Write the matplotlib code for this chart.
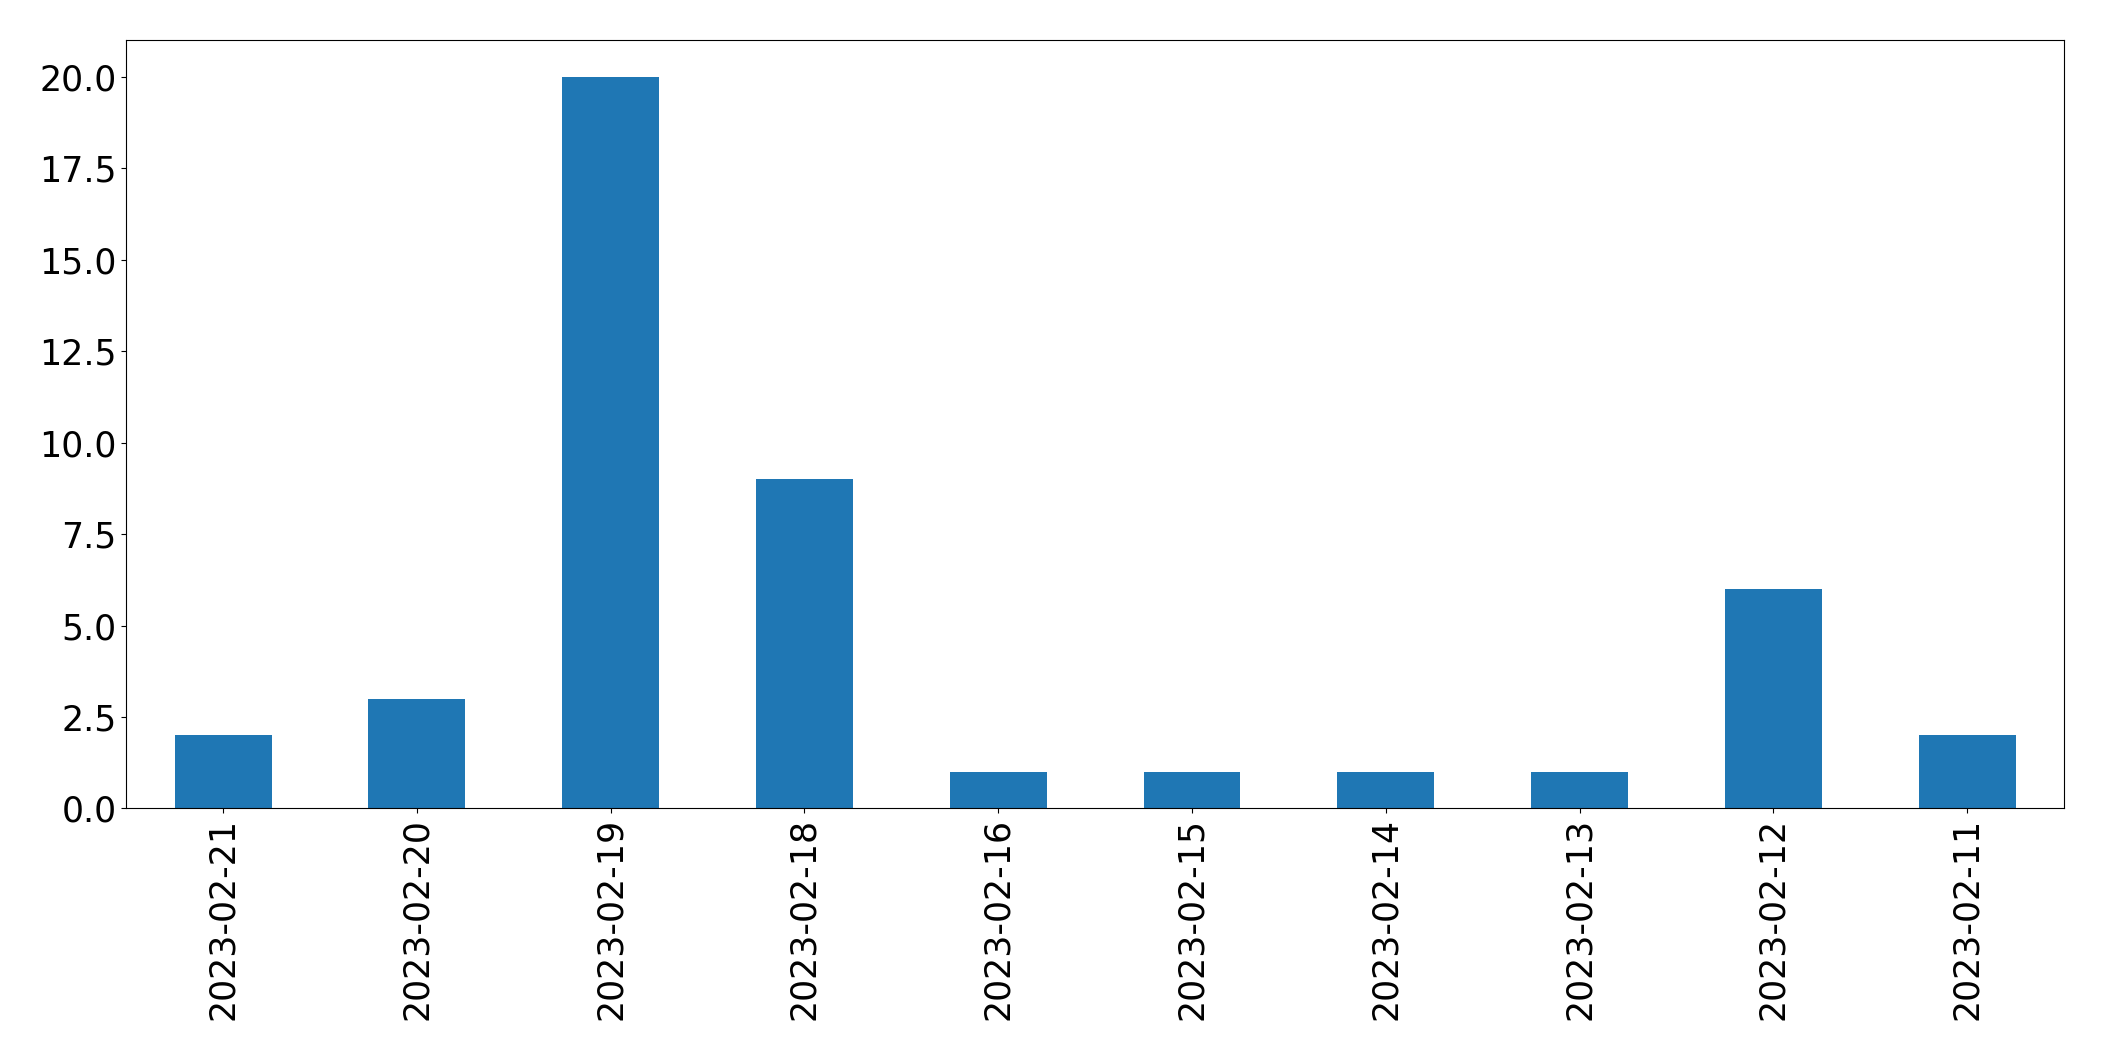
import matplotlib
matplotlib.use("Agg")
import matplotlib.pyplot as plt
import pandas as pd

dates = ["2023-02-21", "2023-02-20", "2023-02-19", "2023-02-18", "2023-02-16",
         "2023-02-15", "2023-02-14", "2023-02-13", "2023-02-12", "2023-02-11"]
counts = [2, 3, 20, 9, 1, 1, 1, 1, 6, 2]

s = pd.Series(counts, index=dates)

fig, ax = plt.subplots(figsize=(21.04, 10.61), dpi=100)
s.plot(kind="bar", ax=ax, color="#1f77b4", fontsize=25)
ax.tick_params(axis="both", labelsize=25)

fig.subplots_adjust(left=0.06, right=0.981, top=0.962, bottom=0.238)
fig.savefig("out.png", dpi=100)
